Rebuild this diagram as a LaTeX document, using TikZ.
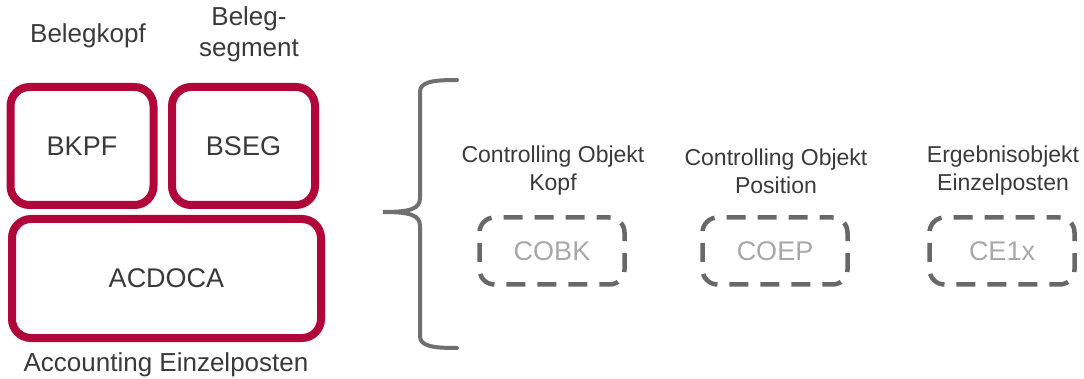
\documentclass[tikz,border=0pt]{standalone}
\usepackage{fontspec}
\setmainfont{Liberation Sans}
\definecolor{sapred}{HTML}{B0063A}
\definecolor{txt}{HTML}{3A3A3A}
\definecolor{dash}{HTML}{686868}
\definecolor{ghost}{HTML}{A8A8A8}
\definecolor{bracecol}{HTML}{707070}
\begin{document}
\begin{tikzpicture}[x=1pt,y=-1pt,
  redbox/.style={draw=sapred,line width=8pt,rounded corners=19pt,inner sep=0pt,
    font=\fontsize{27}{30}\selectfont,text=txt},
  dashbox/.style={draw=dash,line width=4.5pt,rounded corners=15pt,inner sep=0pt,
    dash pattern=on 19pt off 12pt,dash phase=6pt,
    minimum width=145pt,minimum height=67pt,
    font=\fontsize{27}{30}\selectfont,text=ghost},
  caption/.style={align=center,text=txt,inner sep=0pt,
    font=\fontsize{26}{31}\selectfont},
  subcaption/.style={align=center,text=txt,inner sep=0pt,
    font=\fontsize{23}{28}\selectfont}]
\useasboundingbox (0,0) rectangle (1084,379);

% main document tables
\node[redbox,minimum width=143pt,minimum height=118pt] (bkpf) at (82,146) {BKPF};
\node[redbox,minimum width=143pt,minimum height=118pt] (bseg) at (243.5,146) {BSEG};
\node[redbox,minimum width=309pt,minimum height=119pt] (acdoca) at (166.5,278.5) {ACDOCA};

\node[caption] (lbkpf) at (88,36) {Belegkopf};
\node[caption] (lbseg) at (249,34) {Beleg-\\segment};
\node[caption] (lacdoca) at (166,365) {Accounting Einzelposten};

% curly brace
\draw[bracecol,line width=4pt,line cap=round]
  (457,80) .. controls (432,80) and (420,82) .. (420,92)
  -- (420,198) .. controls (420,209) and (410,212) .. (383,212)
  .. controls (410,212) and (420,215) .. (420,226)
  -- (420,336) .. controls (420,346) and (432,348) .. (457,348);

% former controlling tables
\node[dashbox] (cobk) at (552,251) {COBK};
\node[dashbox] (coep) at (775,251) {COEP};
\node[dashbox] (ce1x) at (1002,251) {CE1x};

\node[subcaption] (lcobk) at (553,171) {Controlling Objekt\\Kopf};
\node[subcaption] (lcoep) at (776,171) {Controlling Objekt\\Position};
\node[subcaption] (lce1x) at (1003,171) {Ergebnisobjekt\\Einzelposten};
\end{tikzpicture}
\end{document}
